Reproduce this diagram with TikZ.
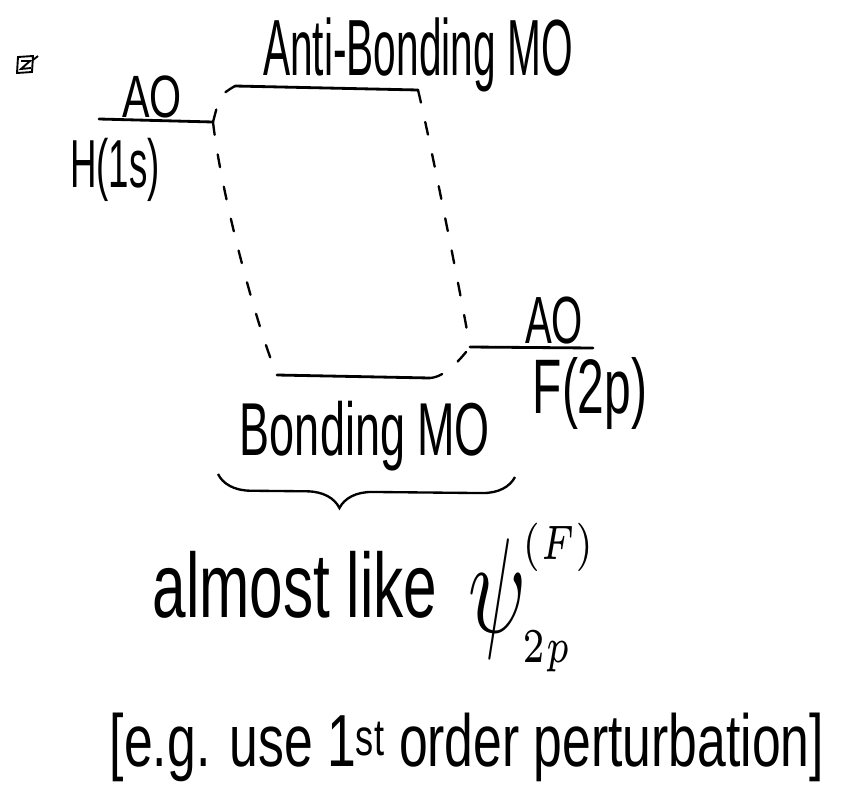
\documentclass[tikz,border=0pt]{standalone}
\usepackage{amsmath}
\usepackage{graphicx}
\usepackage{fontspec}
\usetikzlibrary{decorations.pathreplacing}

% narrow sans for the written labels: #1 = stretch, #2 = size
\newcommand{\hand}[2]{\fontspec[FakeStretch=#1]{Liberation Sans}\fontsize{#2}{#2}\selectfont}
% tall psi with tight indices
\newcommand{\tallpsi}{\scalebox{1}[1.6]{$\psi$}}
\newcommand{\idx}[1]{\scalebox{0.8}[1.15]{$\scriptscriptstyle #1$}}

\begin{document}
\begin{tikzpicture}[x=0.03cm, y=-0.03cm,
    level/.style={line width=2.4pt, line cap=round},
    link/.style={line width=2pt, line cap=round, dash pattern=on 11pt off 17pt},
    lbl/.style={inner sep=0pt, anchor=base}]
  \useasboundingbox (0,0) rectangle (843,811);

  % small mark in the corner
  \draw[line width=1.6pt] (18,57) -- (33,56) -- (32,72) -- (17,73) -- cycle;
  \draw[line width=1.6pt] (21,61) -- (30,61) -- (21,69) -- (31,68);
  \draw[line width=1.6pt] (33,60) -- (38,56);

  % level end points
  \coordinate (hL) at (99,119);
  \coordinate (hR) at (213,122);
  \coordinate (abL) at (235,86);
  \coordinate (abR) at (418,90);
  \coordinate (bL) at (277,375);
  \coordinate (bR) at (430,378);
  \coordinate (fL) at (470,347);
  \coordinate (fR) at (593,348);

  % levels
  \draw[level] (hL) -- (hR);
  \draw[level] (abL) -- (abR);
  \draw[level] (bL) -- (bR);
  \draw[level] (fL) -- (fR);

  % correlation lines
  \draw[link] (hR) .. controls (220,95) .. (abL);
  \draw[link] (hR) .. controls (222,200) and (258,330) .. (bL);
  \draw[link] (abR) .. controls (430,140) and (460,290) .. (fL);
  \draw[link] (bR) .. controls (445,377) and (460,360) .. (fL);

  % labels
  \node[lbl, font=\hand{0.51}{68pt}] (abmo) at (418,75) {Anti-Bonding MO};
  \node[lbl, font=\hand{0.69}{51pt}] (hao) at (152,117) {AO};
  \node[lbl, font=\hand{0.54}{58pt}] (hname) at (115,187) {H(1s)};
  \node[lbl, font=\hand{0.6}{57pt}] (fao) at (554,343) {AO};
  \node[lbl, font=\hand{0.62}{66pt}] (fname) at (590,413) {F(2p)};
  \node[lbl, font=\hand{0.6}{64pt}] (bmo) at (365,455) {Bonding MO};

  % brace under the bonding label
  \coordinate (brL) at (218,474);
  \coordinate (brR) at (515,477);
  \draw[line width=2pt, decorate,
    decoration={brace, amplitude=28pt, aspect=0.41, mirror}] (brL) -- (brR);

  \node[lbl, font=\hand{0.66}{78pt}] (like) at (295,617) {almost like};
  \node[lbl, anchor=base west] (psi) at (468,632)
    {\scalebox{7.2}{$\tallpsi^{\mkern-1mu\idx{(F)}}_{\mkern-1mu\idx{2p}}$}};
  \node[lbl, font=\hand{0.7}{63pt}] (note) at (467,766)
    {[e.g. use 1\textsuperscript{st} order perturbation]};
\end{tikzpicture}
\end{document}
